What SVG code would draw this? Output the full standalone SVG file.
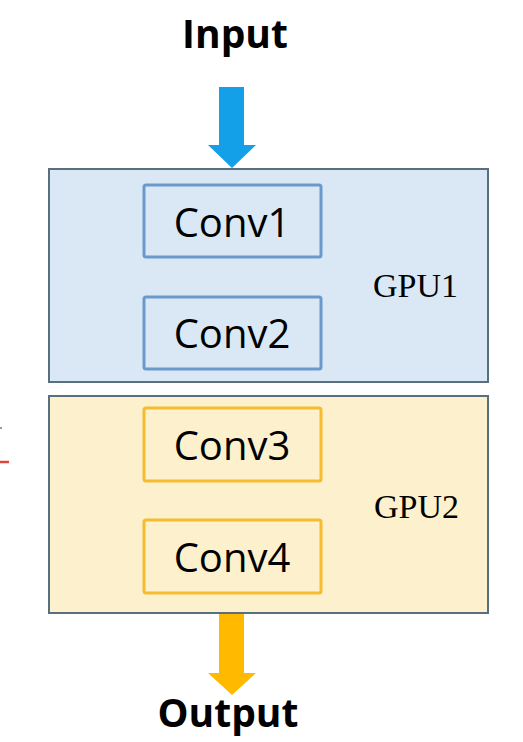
<svg xmlns="http://www.w3.org/2000/svg" width="523" height="742" viewBox="0 0 523 742">
<style>
.title{font-family:"Open Sans","Noto Sans",sans-serif;font-weight:bold;font-size:39px;fill:#000;text-anchor:middle}
.conv{font-family:"Open Sans","Noto Sans",sans-serif;font-size:40px;fill:#000;text-anchor:middle}
.gpu{font-family:"Liberation Serif","Times New Roman",serif;font-size:34px;fill:#000}
.outer{stroke:#5a6f7d;stroke-width:2}
.bconv{fill:#dae8f5;stroke:#6a9acb;stroke-width:3}
.yconv{fill:#fdf0cc;stroke:#f4bc2e;stroke-width:3}
</style>
<rect width="523" height="742" fill="#fff"/>
<g id="marks">
<line x1="0" y1="462" x2="9" y2="462" stroke="#d9473a" stroke-width="2.5"/>
<line x1="0" y1="428" x2="2" y2="428" stroke="#333" stroke-width="1"/>
</g>
<g id="input"><text class="title" x="235" y="48">Input</text></g>
<g id="gpu1">
<rect class="outer" x="49" y="169" width="439" height="213" fill="#dae8f5"/>
<text class="gpu" x="373" y="297">GPU1</text>
</g>
<g id="conv1"><rect class="bconv" x="144" y="185" width="177" height="72" rx="2"/><text class="conv" x="232" y="237">Conv1</text></g>
<g id="conv2"><rect class="bconv" x="144" y="297" width="177" height="72" rx="2"/><text class="conv" x="232" y="348">Conv2</text></g>
<g id="gpu2">
<rect class="outer" x="49" y="396" width="439" height="217" fill="#fdf0cc"/>
<text class="gpu" x="374" y="518">GPU2</text>
</g>
<g id="conv3"><rect class="yconv" x="144" y="408" width="177" height="73" rx="2"/><text class="conv" x="232" y="460">Conv3</text></g>
<g id="conv4"><rect class="yconv" x="144" y="520" width="177" height="73" rx="2"/><text class="conv" x="232" y="572">Conv4</text></g>
<g id="output"><text class="title" x="228" y="727">Output</text></g>
<g id="connectors">
<polygon points="219,87 244,87 244,145 256,145 232,168 208,145 219,145" fill="#14a0e8"/>
<polygon points="219,614 244,614 244,673 256,673 232,695 208,673 219,673" fill="#ffba00"/>
</g>
</svg>
